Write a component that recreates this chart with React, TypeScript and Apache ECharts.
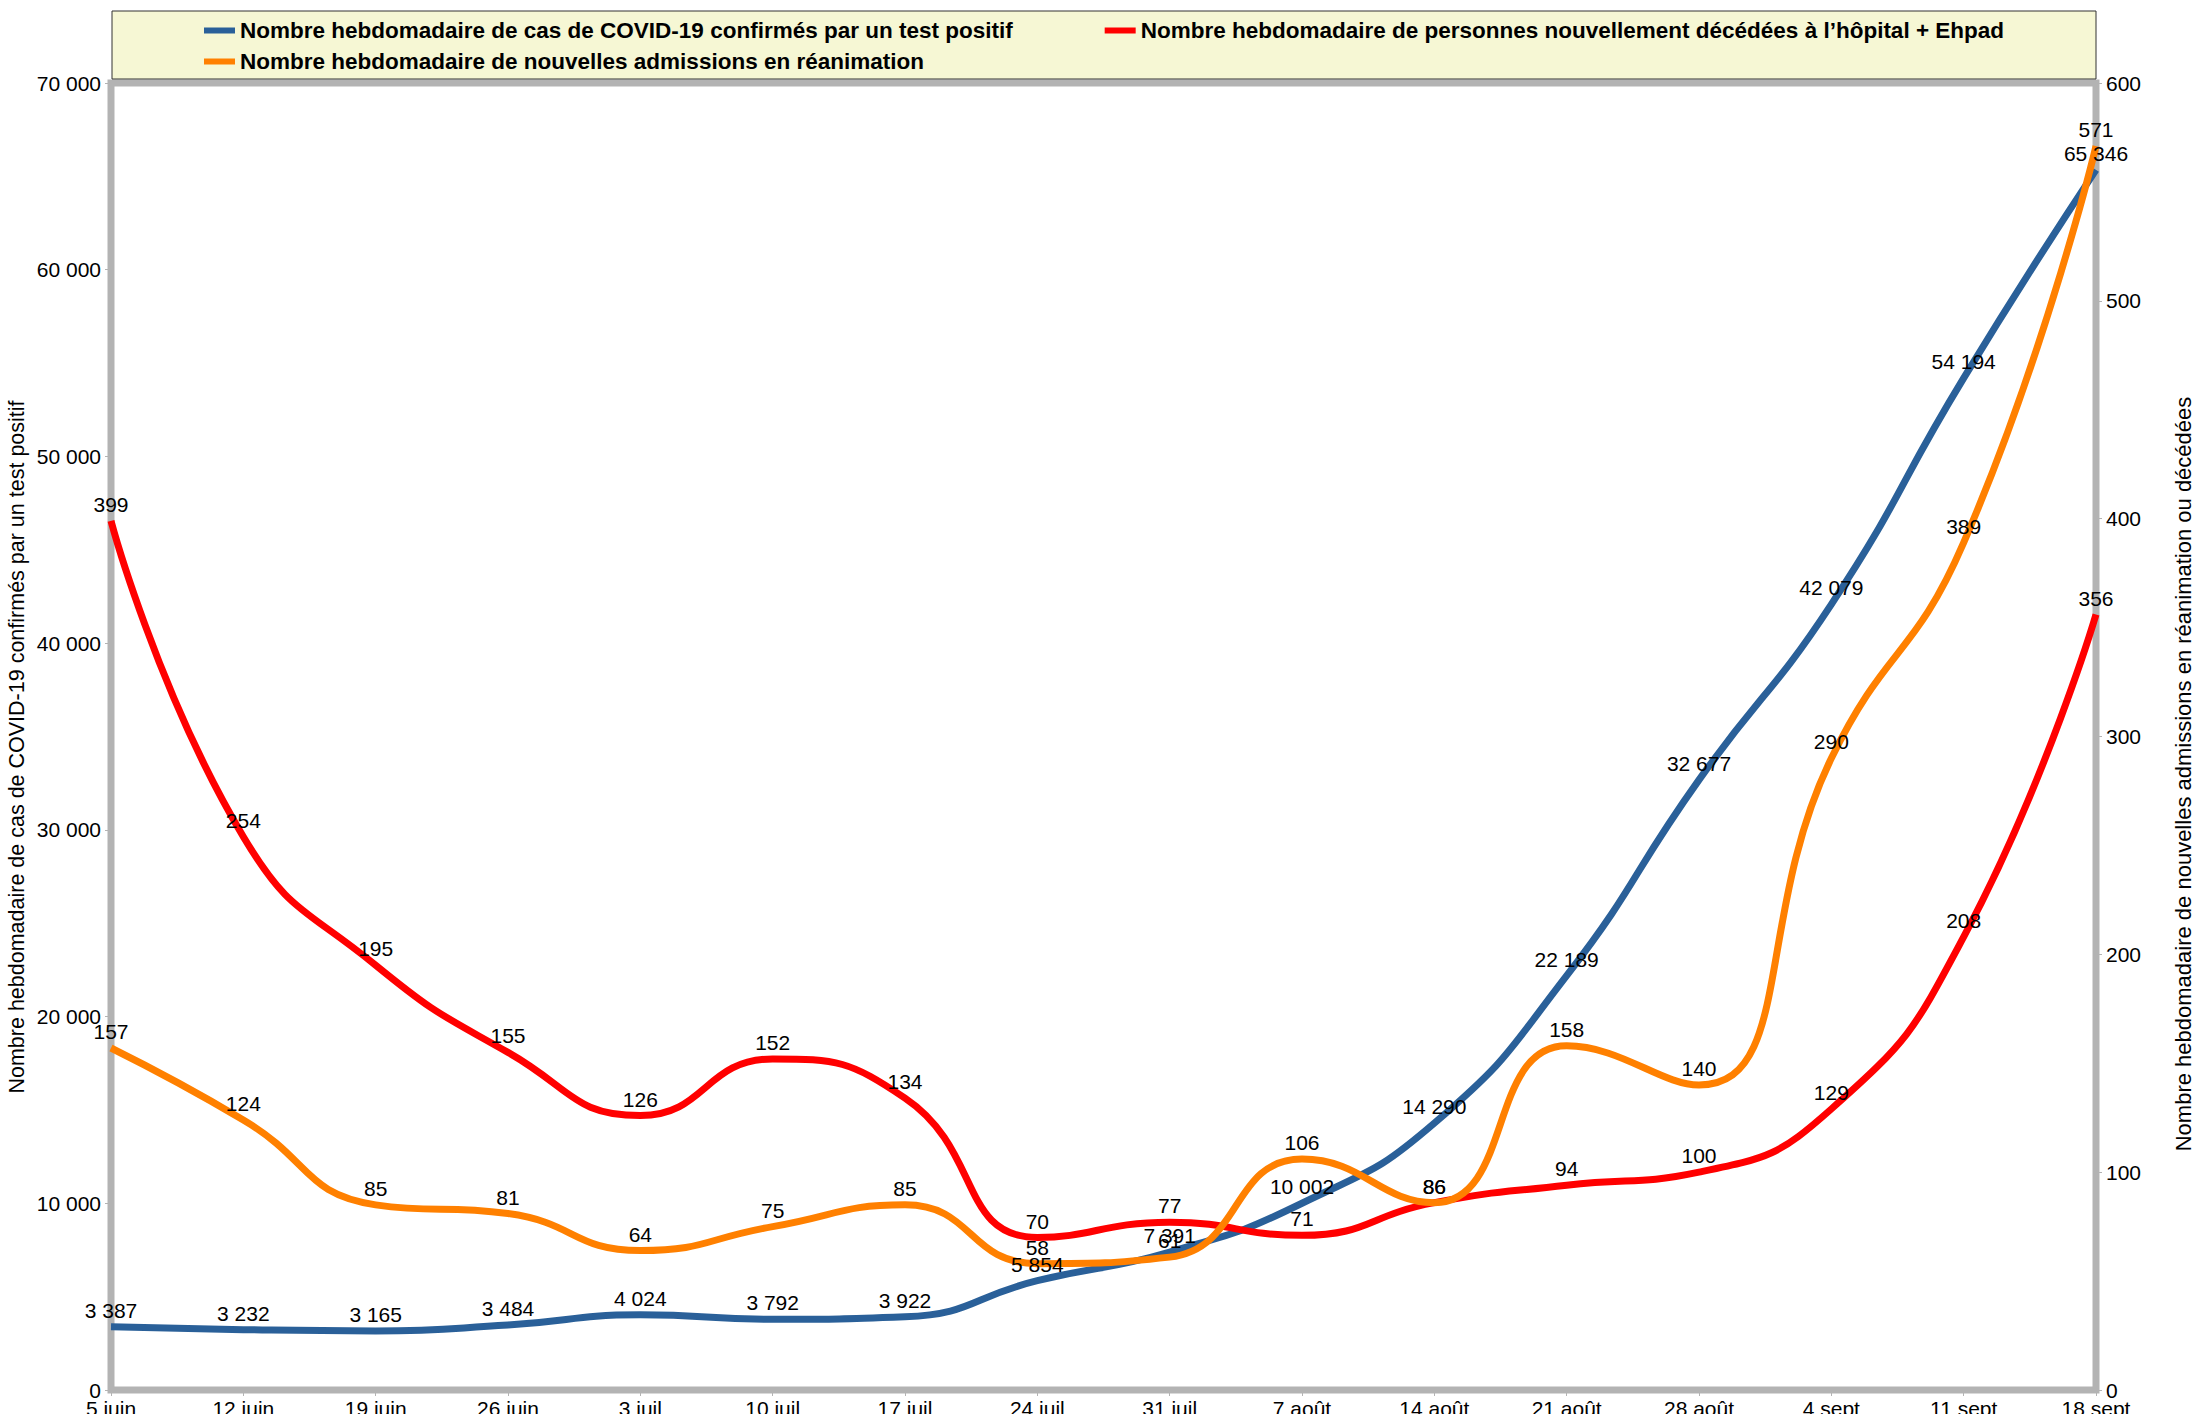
import React, { useEffect, useRef } from "react";
import * as echarts from "echarts";

const categories = [
  "5 juin", "12 juin", "19 juin", "26 juin", "3 juil", "10 juil", "17 juil", "24 juil",
  "31 juil", "7 août", "14 août", "21 août", "28 août", "4 sept", "11 sept", "18 sept",
];

const casConfirmes = [3387, 3232, 3165, 3484, 4024, 3792, 3922, 5854, 7391, 10002, 14290, 22189, 32677, 42079, 54194, 65346];
const deces = [399, 254, 195, 155, 126, 152, 134, 70, 77, 71, 86, 94, 100, 129, 208, 356];
const reanimations = [157, 124, 85, 81, 64, 75, 85, 58, 61, 106, 86, 158, 140, 290, 389, 571];

const nameCas = "Nombre hebdomadaire de cas de COVID-19 confirmés par un test positif";
const nameDeces = "Nombre hebdomadaire de personnes nouvellement décédées à l’hôpital + Ehpad";
const nameRea = "Nombre hebdomadaire de nouvelles admissions en réanimation";

const leftTitle = "Nombre hebdomadaire de cas de COVID-19 confirmés par un test positif";
const rightTitle = "Nombre hebdomadaire de nouvelles admissions en réanimation ou décédées";

const FONT = "Liberation Sans, Arial, sans-serif";

function fmt(v: number): string {
  return String(Math.round(v)).replace(/\B(?=(\d{3})+(?!\d))/g, " ");
}

export default function App() {
  const ref = useRef<HTMLDivElement>(null);

  useEffect(() => {
    if (!ref.current) return;
    const chart = echarts.init(ref.current, null, { renderer: "svg" });

    const labelCfg = {
      show: true,
      position: "top",
      distance: 6,
      fontSize: 21,
      fontFamily: FONT,
      color: "#000",
      formatter: (p: any) => fmt(p.value),
    };

    const mkSeries = (name: string, data: number[], color: string, yIdx: number) => ({
      name,
      type: "line",
      yAxisIndex: yIdx,
      data,
      smooth: 0.5,
      symbol: "circle",
      symbolSize: 0,
      showSymbol: true,
      lineStyle: { color, width: 7 },
      itemStyle: { color },
      label: labelCfg,
      emphasis: { disabled: true },
    });

    const legendText = { fontSize: 22.5, fontWeight: "bold", color: "#000", fontFamily: FONT };

    chart.setOption({
      animation: false,
      backgroundColor: "#fff",
      textStyle: { fontFamily: FONT },
      grid: {
        left: 111,
        right: 106,
        top: 83,
        bottom: 24,
        show: true,
        borderColor: "#b3b3b3",
        borderWidth: 7,
        backgroundColor: "transparent",
        containLabel: false,
        outerBoundsMode: "none",
      },
      graphic: [
        {
          type: "rect",
          z: 100,
          shape: { x: 112, y: 11, width: 1984, height: 68 },
          style: { fill: "#f6f7d4", stroke: "#333", lineWidth: 1 },
        },
        {
          type: "text",
          x: 17,
          y: 747,
          rotation: Math.PI / 2,
          style: {
            text: leftTitle,
            align: "center",
            verticalAlign: "middle",
            fontSize: 21.5,
            fontFamily: FONT,
            fill: "#000",
          },
        },
        {
          type: "text",
          x: 2183,
          y: 774,
          rotation: Math.PI / 2,
          style: {
            text: rightTitle,
            align: "center",
            verticalAlign: "middle",
            fontSize: 22,
            fontFamily: FONT,
            fill: "#000",
          },
        },
      ],
      legend: [
        {
          data: [nameCas, nameDeces],
          left: 199,
          top: 14,
          z: 110,
          icon: "rect",
          itemWidth: 31,
          itemHeight: 6,
          itemGap: 92,
          selectedMode: false,
          textStyle: legendText,
        },
        {
          data: [nameRea],
          left: 199,
          top: 45,
          z: 110,
          icon: "rect",
          itemWidth: 31,
          itemHeight: 6,
          selectedMode: false,
          textStyle: legendText,
        },
      ],
      xAxis: {
        type: "category",
        data: categories,
        boundaryGap: false,
        axisLine: { show: false },
        axisTick: { show: true, length: 6, lineStyle: { color: "#b3b3b3", width: 1 } },
        axisLabel: { fontSize: 21, color: "#000", fontFamily: FONT, margin: 8, interval: 0 },
        splitLine: { show: false },
      },
      yAxis: [
        {
          type: "value",
          min: 0,
          max: 70000,
          interval: 10000,
          position: "left",
          axisLine: { show: false },
          axisTick: { show: true, length: 6, lineStyle: { color: "#b3b3b3", width: 1 } },
          axisLabel: { fontSize: 21, color: "#000", fontFamily: FONT, margin: 10, formatter: (v: number) => fmt(v) },
          splitLine: { show: false },
        },
        {
          type: "value",
          min: 0,
          max: 600,
          interval: 100,
          position: "right",
          axisLine: { show: false },
          axisTick: { show: true, length: 6, lineStyle: { color: "#b3b3b3", width: 1 } },
          axisLabel: { fontSize: 21, color: "#000", fontFamily: FONT, margin: 10, formatter: (v: number) => fmt(v) },
          splitLine: { show: false },
        },
      ],
      series: [
        mkSeries(nameCas, casConfirmes, "#2a6099", 0),
        mkSeries(nameDeces, deces, "#ff0000", 1),
        mkSeries(nameRea, reanimations, "#ff8000", 1),
      ],
    });

    return () => chart.dispose();
  }, []);

  return (
    <div
      ref={ref}
      style={{ position: "absolute", left: 0, top: 0, width: 2202, height: 1414 }}
    />
  );
}
